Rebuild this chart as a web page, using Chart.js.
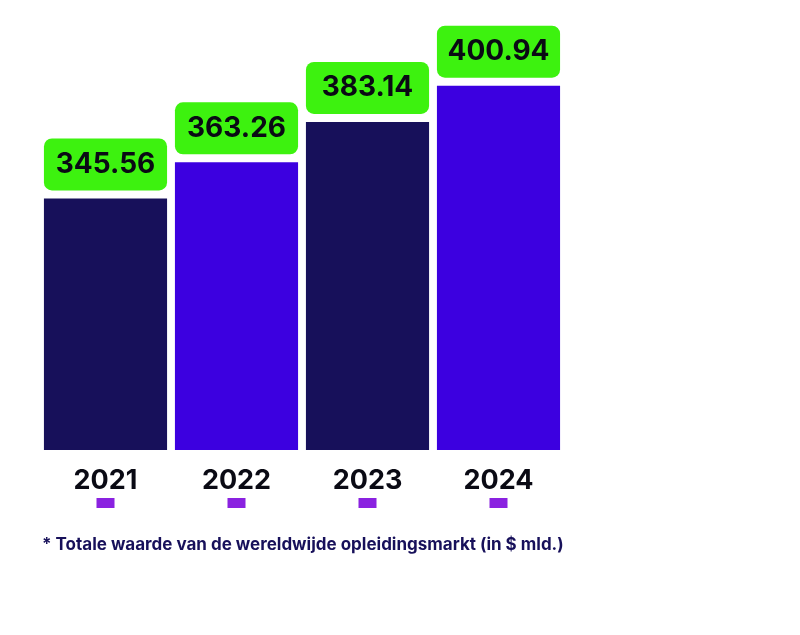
<!DOCTYPE html>
<html>
<head>
<meta charset="utf-8">
<script src="https://cdn.jsdelivr.net/npm/chart.js@4"></script>
<style>
  body { margin: 0; background: #fff; }
  #wrap { position: relative; width: 800px; height: 635px; }
</style>
</head>
<body>
<div id="wrap"><canvas id="barChart"></canvas></div>
<script>
const years = ['2021', '2022', '2023', '2024'];
const values = [345.56, 363.26, 383.14, 400.94];
const barColors = ['#17105a', '#3c00e0', '#17105a', '#3c00e0'];
const footnote = '* Totale waarde van de wereldwijde opleidingsmarkt (in $ mld.)';

// labels, year names and the small purple markers under each bar
const decorations = {
  id: 'decorations',
  afterDatasetsDraw(chart) {
    const ctx = chart.ctx;
    const meta = chart.getDatasetMeta(0);
    ctx.save();
    meta.data.forEach((bar, i) => {
      const w = bar.width;
      const left = bar.x - w / 2;
      // green value box
      ctx.fillStyle = '#3df20f';
      ctx.beginPath();
      ctx.roundRect(left, bar.y - 60, w, 52, 8);
      ctx.fill();
      ctx.fillStyle = '#0a0a14';
      ctx.font = 'bold 28px Inter, sans-serif';
      ctx.textAlign = 'center';
      ctx.textBaseline = 'middle';
      ctx.fillText(values[i].toFixed(2), bar.x, bar.y - 34);
      // year label
      ctx.fillStyle = '#0a0a14';
      ctx.font = 'bold 27px Inter, sans-serif';
      ctx.fillText(years[i], bar.x, 481);
      // marker
      ctx.fillStyle = '#8a22e0';
      ctx.fillRect(bar.x - 9, 498, 18, 10);
    });
    ctx.fillStyle = '#17105a';
    ctx.font = 'bold 17px Inter, sans-serif';
    ctx.textAlign = 'left';
    ctx.fillText(footnote, 42, 545);
    ctx.restore();
  }
};

new Chart(document.getElementById('barChart').getContext('2d'), {
  type: 'bar',
  data: {
    labels: years,
    datasets: [{
      data: values,
      backgroundColor: barColors,
      barPercentage: 0.94,
      categoryPercentage: 1
    }]
  },
  options: {
    responsive: true,
    maintainAspectRatio: false,
    animation: false,
    layout: { padding: { left: 40, right: 236, top: 0, bottom: 185 } },
    plugins: { legend: { display: false }, tooltip: { enabled: false } },
    scales: {
      x: { display: false },
      y: { display: false, min: 222, max: 443 }
    }
  },
  plugins: [decorations]
});
</script>
</body>
</html>
